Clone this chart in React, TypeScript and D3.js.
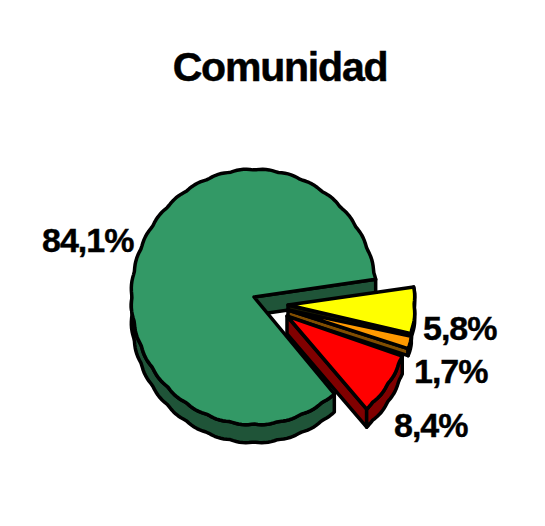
import { useEffect, useRef } from 'react';
import * as d3 from 'd3';

const title = 'Comunidad';
const categories = ['Amarillo', 'Naranja', 'Rojo', 'Verde'];
const values = [5.8, 1.7, 8.4, 84.1];

const topColors = ['#ffff00', '#ff9900', '#ff0000', '#339966'];
const sideColors = ['#1a1a00', '#804d00', '#800000', '#1f5438'];

const rad = Math.PI / 180;
const depth = 18;
const strokeW = 3.5;

// apex of each slice after exploding, plus radii
const slices = [
    { cx: 288, cy: 305, rx: 126, ry: 128, depth: 6 },
    { cx: 288, cy: 310, rx: 126, ry: 118, depth: 7 },
    { cx: 287, cy: 316, rx: 121, ry: 122, depth: 18 },
    { cx: 254, cy: 297, rx: 122, ry: 127, depth },
];

const labelPos = [
    { x: 423, y: 340 },
    { x: 414, y: 383 },
    { x: 394, y: 437 },
    { x: 42, y: 252 },
];

const App = () => {
    const chartRef = useRef<SVGSVGElement>(null);

    useEffect(() => {
        const svg = d3.select(chartRef.current);
        svg.selectAll('*').remove();

        const pie = d3
            .pie<number>()
            .sort(null)
            .startAngle(82 * rad)
            .endAngle(442 * rad);
        const arcs = pie(values);

        const line = d3
            .line<[number, number]>()
            .x((d) => d[0])
            .y((d) => d[1]);

        // rim points, low-res scallop like the original raster
        const rim = (i: number, a0: number, a1: number, dy = 0): [number, number][] => {
            const s = slices[i];
            const n = Math.max(4, Math.ceil((a1 - a0) / (1.5 * rad)));
            return d3.range(n + 1).map((k) => {
                const a = a0 + ((a1 - a0) * k) / n;
                const w = 1 + 0.009 * Math.abs(Math.sin(a * 16));
                return [
                    s.cx + s.rx * w * Math.sin(a),
                    s.cy - s.ry * w * Math.cos(a) + dy,
                ];
            });
        };

        const g = svg.append('g').attr('stroke', '#000').attr('stroke-width', strokeW).attr('stroke-linejoin', 'round');

        const drawSlice = (i: number) => {
            const s = slices[i];
            const a = arcs[i];
            const d = s.depth;
            const sg = g.append('g');

            if (i === 3) {
                // back wall of the cut, then the lower rim
                const wall = rim(i, a.endAngle, a.endAngle)[0];
                sg.append('path')
                    .attr('d', line([[s.cx, s.cy], wall, [wall[0], wall[1] + d], [s.cx, s.cy + d]]) + 'Z')
                    .attr('fill', sideColors[i]);
                const from = a.startAngle;
                const to = 270 * rad;
                sg.append('path')
                    .attr('d', line([...rim(i, from, to), ...rim(i, from, to, d).reverse()]) + 'Z')
                    .attr('fill', sideColors[i]);
            } else {
                // cut wall along the end edge, then the outer rim
                const end = rim(i, a.endAngle, a.endAngle)[0];
                sg.append('path')
                    .attr('d', line([[s.cx, s.cy], end, [end[0], end[1] + d], [s.cx, s.cy + d]]) + 'Z')
                    .attr('fill', sideColors[i]);
                sg.append('path')
                    .attr('d', line([...rim(i, a.startAngle, a.endAngle), ...rim(i, a.startAngle, a.endAngle, d).reverse()]) + 'Z')
                    .attr('fill', sideColors[i]);
            }

            sg.append('path')
                .attr('d', line([[s.cx, s.cy], ...rim(i, a.startAngle, a.endAngle)]) + 'Z')
                .attr('fill', topColors[i]);
        };

        drawSlice(3);
        drawSlice(0);
        drawSlice(1);
        drawSlice(2);

        const fontFamily = '"Liberation Sans", Arial, sans-serif';
        svg.append('text')
            .attr('x', 280)
            .attr('y', 81)
            .attr('text-anchor', 'middle')
            .attr('font-family', fontFamily)
            .attr('font-weight', 700)
            .attr('font-size', 41)
            .attr('letter-spacing', -1.2)
            .attr('stroke', '#000')
            .attr('stroke-width', 0.5)
            .text(title);

        svg.selectAll('.label')
            .data(values)
            .enter()
            .append('text')
            .attr('class', 'label')
            .attr('data-category', (_, i) => categories[i])
            .attr('x', (_, i) => labelPos[i].x)
            .attr('y', (_, i) => labelPos[i].y)
            .attr('font-family', fontFamily)
            .attr('font-weight', 700)
            .attr('font-size', 34)
            .attr('letter-spacing', -1)
            .attr('stroke', '#000')
            .attr('stroke-width', 0.4)
            .text((d) => `${d.toFixed(1).replace('.', ',')}%`);
    }, []);

    return (
        <svg
            ref={chartRef}
            width={545}
            height={526}
            style={{ position: 'absolute', left: 0, top: 0, background: '#fff' }}
        />
    );
};

export default App;
